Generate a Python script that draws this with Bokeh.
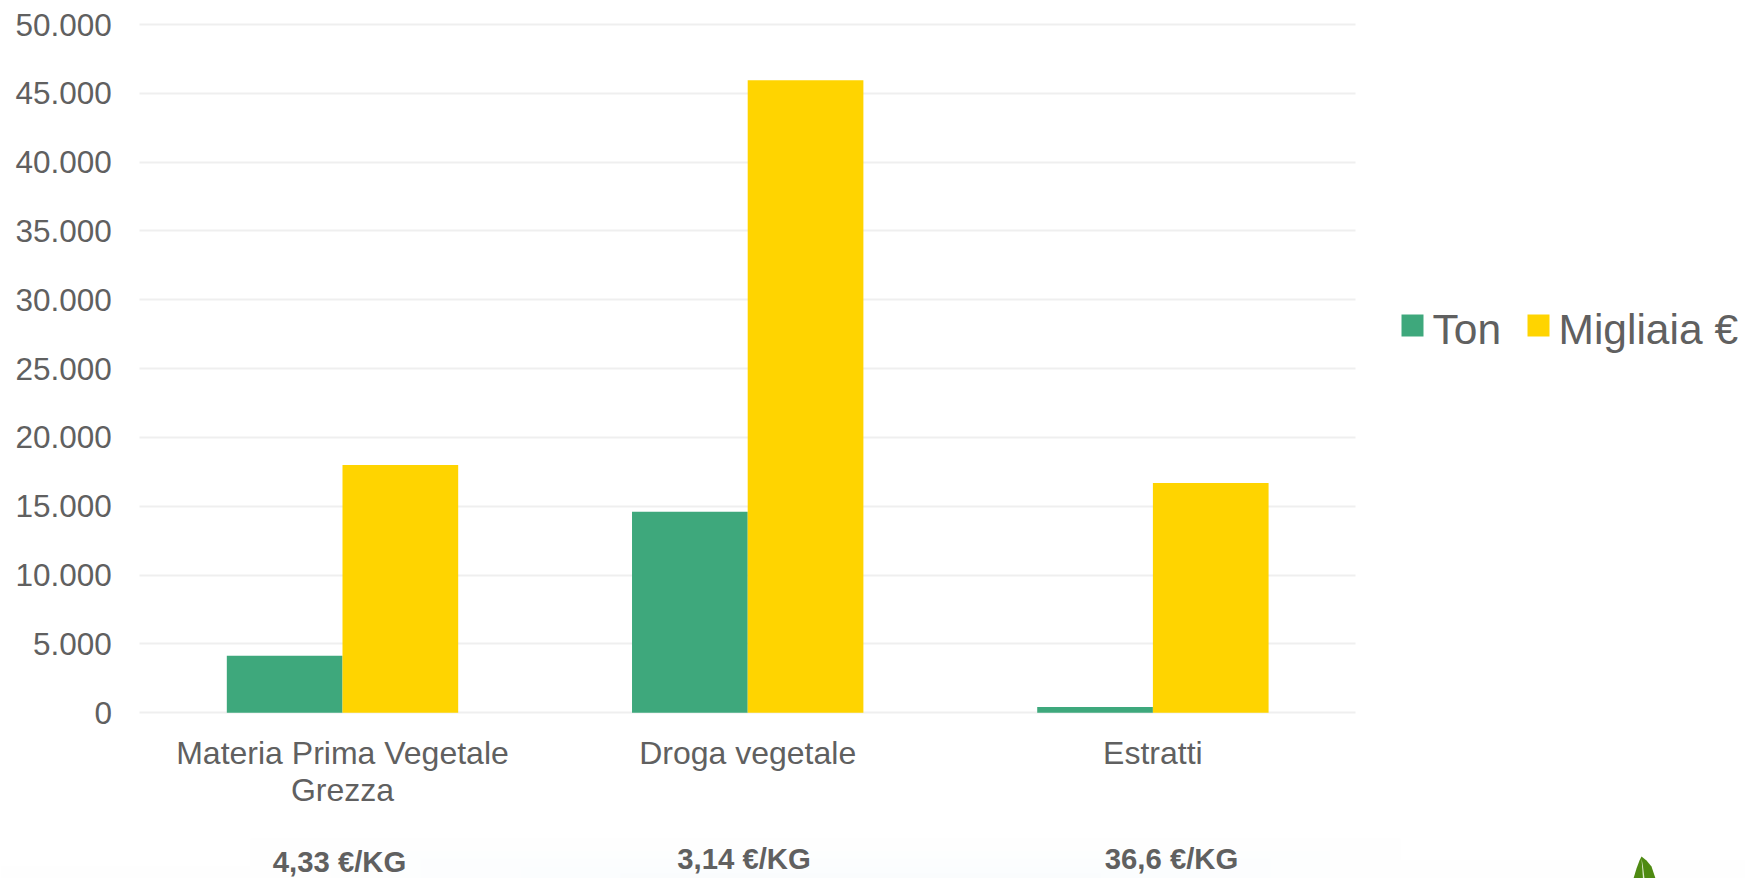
from bokeh.plotting import figure
from bokeh.models import Range1d, FixedTicker, Label, ColumnDataSource, CustomJSTickFormatter, BoxAnnotation, PolyAnnotation
from bokeh.embed import file_html
from bokeh.resources import INLINE

categories = ["Materia Prima Vegetale\nGrezza", "Droga vegetale", "Estratti"]
ton = [4140, 14600, 430]
migliaia = [18000, 45950, 16700]
prices = ["4,33 €/KG", "3,14 €/KG", "36,6 €/KG"]
y_ticks = [0, 5000, 10000, 15000, 20000, 25000, 30000, 35000, 40000, 45000, 50000]
TEXT = "#606060"
GREEN = "#3EA87C"
YELLOW = "#FFD400"
W, H = 1745, 878

# the frame spans the whole canvas so that legend and footnotes may lie outside the plot area
PX_PER_CAT, X0 = 405.2, 342.0
PX_PER_VAL, Y0 = 0.013766, 712.3
idx = list(range(len(categories)))

p = figure(width=W, height=H,
           x_range=Range1d(-X0/PX_PER_CAT, (W-X0)/PX_PER_CAT),
           y_range=Range1d(-(H-Y0)/PX_PER_VAL, Y0/PX_PER_VAL),
           output_backend="svg", toolbar_location=None,
           min_border_left=0, min_border_right=0, min_border_top=0, min_border_bottom=0,
           outline_line_color=None)

def sy(py):
    return H - py

def box(x0, x1, y0, y1, c, level="annotation"):
    p.add_layout(BoxAnnotation(left=x0, right=x1, top=sy(y0), bottom=sy(y1), left_units="screen", right_units="screen",
                               top_units="screen", bottom_units="screen", fill_color=c, fill_alpha=1,
                               line_color=None, level=level))

# faint, uneven blue wash at the foot of the slide
box(0, 250, 866, H, "#FEFEFE", "underlay")
box(1400, W, 860, H, "#FEFEFE", "underlay")
box(250, 1400, 838, H, "#FEFEFE", "underlay")
box(330, 1330, 850, H, "#FDFEFE", "underlay")
box(420, 1270, 858, H, "#FCFDFE", "underlay")
box(520, 1200, 866, H, "#FBFDFE", "underlay")
box(620, 1100, 873, H, "#FAFCFD", "underlay")

bw = 0.2855
src = ColumnDataSource(dict(x=idx, x1=[i-bw/2 for i in idx], x2=[i+bw/2 for i in idx], ton=ton, mig=migliaia))
p.vbar(x="x1", top="ton", width=bw, source=src, fill_color=GREEN, line_color=None)
p.vbar(x="x2", top="mig", width=bw, source=src, fill_color=YELLOW, line_color=None)

p.xgrid.visible = False
p.ygrid.grid_line_color = "#EFEFEF"
p.ygrid.grid_line_width = 2
p.ygrid.ticker = FixedTicker(ticks=y_ticks)
p.ygrid.cross_bounds = (-0.5, 2.5)

ya = p.yaxis[0]
ya.fixed_location = -0.5
ya.ticker = FixedTicker(ticks=y_ticks)
ya.formatter = CustomJSTickFormatter(code="return tick === 0 ? '0' : tick.toString().replace(/\\B(?=(\\d{3})+$)/g, '.');")
ya.axis_line_color = None
ya.major_tick_line_color = None
ya.minor_tick_line_color = None
ya.major_label_standoff = 22
ya.major_label_text_font = "Liberation Sans"
ya.major_label_text_font_size = "31.5px"
ya.major_label_text_color = TEXT

xa = p.xaxis[0]
xa.fixed_location = 0
xa.ticker = FixedTicker(ticks=idx)
xa.major_label_overrides = {i: c for i, c in zip(idx, categories)}
xa.axis_line_color = None
xa.major_tick_line_color = None
xa.minor_tick_line_color = None
xa.major_label_standoff = 16
xa.major_label_text_font = "Liberation Sans"
xa.major_label_text_font_size = "32px"
xa.major_label_text_color = TEXT
xa.major_label_text_line_height = 1.02

def add_label(txt, x, y, size, bold=False, align="left"):
    p.add_layout(Label(x=x, y=y, x_units="screen", y_units="screen", text=txt, text_font="Liberation Sans",
                       text_font_size=size, text_color=TEXT, text_align=align, text_baseline="middle",
                       text_font_style="bold" if bold else "normal"))

add_label("Ton", 1432, sy(329), "42.5px")
add_label("Migliaia €", 1558, sy(329), "42.5px")
add_label(prices[0], 339, sy(860.5), "29.3px", True, "center")
add_label(prices[1], 743.5, sy(858), "29.3px", True, "center")
add_label(prices[2], 1171, sy(858), "29.3px", True, "center")

box(1401, 1423, 314, 336, GREEN)
box(1527, 1549, 314, 336, YELLOW)

# leaf ornament, bottom right
p.add_layout(PolyAnnotation(xs=[1641, 1646, 1651, 1655, 1633, 1636, 1639],
                            ys=[sy(v) for v in (856, 860, 866, 878, 878, 868, 860)],
                            xs_units="screen", ys_units="screen", fill_color="#4E8A12", fill_alpha=1, line_color=None))
p.add_layout(PolyAnnotation(xs=[1641, 1642.5, 1644, 1642.5],
                            ys=[sy(v) for v in (858, 866, 878, 878)],
                            xs_units="screen", ys_units="screen", fill_color="#DDE8CC", fill_alpha=1, line_color=None))

open("out.html", "w").write(file_html(p, INLINE))
